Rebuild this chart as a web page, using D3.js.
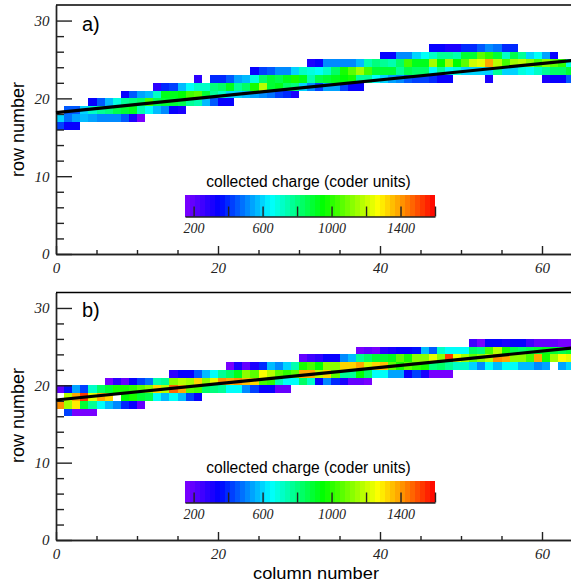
<!DOCTYPE html>
<html>
<head>
<meta charset="utf-8">
<script src="https://cdnjs.cloudflare.com/ajax/libs/d3/7.8.5/d3.min.js"></script>
<style>
  html, body { margin: 0; padding: 0; background: #fff; }
  svg { display: block; }
</style>
</head>
<body>
<svg id="chart" width="571" height="582"></svg>
<script>
// axis ticks
const xMajorTicks = [0, 20, 40, 60];
const xMinorTicks = [5, 10, 15, 25, 30, 35, 45, 50, 55];
const yMajorTicks = [0, 10, 20, 30];
const yMinorTicks = [2, 4, 6, 8, 12, 14, 16, 18, 22, 24, 26, 28];
const barTicks = [200, 400, 600, 800, 1000, 1200, 1400, 1600];
const barLabels = [200, 600, 1000, 1400];

// charge palette: stops of the rainbow and the width of one colour step
const paletteValues = [150, 350, 650, 950, 1270, 1600];
const paletteColors = ['#8000ff', '#0000ff', '#00ffff', '#00ff00', '#ffff00', '#ff0000'];
const paletteStep = 29;

// fitted track, row number at column 0 and column 64
const fitColumns = [0, 64];
const fitRowsA = [18.18, 24.9];
const fitRowsB = [18.1, 24.85];

// panel a: pixel rows, first column of each row, charge per column (null = no hit)
const rowsA = [16, 17, 18, 19, 20, 21, 22, 23, 24, 25, 26];
const startsA = [0, 0, 1, 4, 8, 12, 17, 24, 31, 40, 46];
const chargesA = [
  [425, 325, 325],
  [595, 482, 538, 576, 538, 519, 519, 500, 463, 300, 175],
  [463, 463, 595, 724, 762, 800, 856, 875, 931, 743, 650, 557, 519, 350, 300],
  [350, 444, 557, 686, 780, 800, 818, 1030, 850, 900, 900, 850, 762, 743, 557, 463, 350, 325],
  [350, 463, 538, 576, 705, 931, 931, 950, 1030, 1050, 875, 762, 724, 613, 613, 576, 538, 519, 482, 425, 388, 300],
  [275, 406, 425, 557, 650, 724, 705, 800, 818, 931, 762, 837, 990, 1170, 894, 912, 837, 800, 613, 500, 425, 538, 538, 425, 350, 350],
  [280, null, 388, 406, 444, 538, 557, 690, 837, 875, 856, 912, 990, 912, 743, 856, 875, 912, 950, 970, 770, 770, 650, 613, 538, 500, 444, 425, 425, 406, 330, 325,
    null, null, null, null, 300, null, null, null, null, null, null, 300, 325, 350, 463, 406],
  [330, 425, 444, 500, 519, 613, 724, 686, 650, 705, 837, 990, 1070, 1150, 1030, 875, 875, 875, 762, 856, 818, 818, 650, 780, 650, 686, 613, 595, 595, 613, 762, 595, 613, 686, 650, 705, 762, 818, 837, 875],
  [300, 350, 500, 500, 500, 519, 576, 743, 800, 762, 743, 837, 1030, 931, 931, 1150, 950, 1150, 950, 1070, 1210, 1230, 1370, 1170, 1030, 1150, 1190, 1110, 1030, 1110, 1050, 1010, 686],
  [330, 330, 500, 500, 595, 650, 724, 762, 762, 743, 894, 894, 1070, 1010, 875, 724, 856, 762, 613, 650, 538, 350],
  [350, 350, 300, 300, 388, 406, 463, 519, 482, 406, 406]
];

// panel b
const rowsB = [16, 17, 18, 19, 20, 21, 22, 23, 24, 25];
const startsB = [1, 0, 1, 0, 6, 14, 21, 30, 37, 51];
const chargesB = [
  [425, 175, 175, 175],
  [1410, 1150, 1290, 875, 762, 650, 576, 519, 388, 325, 200],
  [1190, 1390, 1520, 1230, 1390, 1310, null, 950, 970, 894, 856, 650, 576, 650, 557, 425, 325],
  [200, 369, 538, 425, 724, 837, 875, 970, 990, 1010, 1070, 1110, 1330, 1190, 1455, 1390, 1070, 1030, 818, 800, 762, 650, 650, 519, 425, 325, 325, 190, 190],
  [175, 270, 200, 325, 425, 482, 743, 762, 1110, 1190, 1150, 1330, 1110, 1230, 1410, 1390, 1410, 1350, 1330, 1030, 1010, 743, 650, 650, 837, 705, 350, 519, 406, 300, 200, 200, 175],
  [275, 350, 350, 463, 557, 650, 780, 837, 931, 1130, 1070, 1270, 1170, 1070, 1010, 1070, 1370, 1390, 1190, 1330, 1070, 762, 780, 950, 818, 650, 650, 538, 538, 350, 425, 300, 175, 175, 175],
  [175, 300, 200, 300, 406, 557, 519, 595, 743, 970, 1030, 950, 1130, 1130, 1310, 1310, 1390, 1210, 1330, 1350, 1070, 990, 1070, 1010, 970, 800, 837, 762, 724, 705, 613, 519, 650, 576, 650, 650, 576, 557, 519, 538, null, 538, 613],
  [200, 250, 275, 350, 350, 519, 576, 780, 837, 875, 875, 931, 1070, 970, 1110, 1110, 1230, 1110, 1520, 1230, 1150, 1070, 1110, 1170, 1410, 1390, 1110, 1110, 1030, 1390, 990, 1150, 1270, 1230],
  [175, 200, 175, 275, 300, 325, 350, 369, 576, 463, 705, 650, 650, 650, 837, 800, 1030, 1190, 990, 856, 818, 856, 875, 931, 875, 856, 875],
  [250, 175, 325, 350, 300, 325, 350, 250, 200, 200, 200, 175, 175]
];

const svg = d3.select('#chart');
const serif = '"Liberation Serif", serif';
const sans = '"Liberation Sans", Arial, sans-serif';
const ink = '#222';

const x = d3.scaleLinear().domain([0, 64]).range([56, 574.4]);
const barScale = d3.scaleLinear().domain([150, 1600]).range([185, 435]);
const palette = d3.scaleLinear().domain(paletteValues).range(paletteColors);
// the palette is stepped, every charge takes the colour of its step
const stepColor = v => palette(150 + Math.floor((v - 150) / paletteStep) * paletteStep + paletteStep / 2);

const styleAxis = (g, fontSize) => {
  g.selectAll('path, line').attr('stroke', ink).attr('stroke-width', 1.4);
  g.selectAll('text')
    .attr('fill', ink)
    .style('font-family', serif)
    .style('font-style', 'italic')
    .style('font-size', fontSize + 'px');
};

const drawPanel = (panel) => {
  const { bottom, plotHeight, label, rows, starts, charges, fit } = panel;
  const y = d3.scaleLinear().domain([0, 32]).range([bottom, bottom - plotHeight]);
  const g = svg.append('g');

  // pixels
  const cells = [];
  rows.forEach((row, i) => {
    charges[i].forEach((charge, k) => {
      if (charge !== null) cells.push({ row, col: starts[i] + k, charge });
    });
  });
  g.append('g').selectAll('rect')
    .data(cells)
    .enter()
    .append('rect')
    .attr('x', d => x(d.col))
    .attr('y', d => y(d.row + 1))
    .attr('width', x(1) - x(0))
    .attr('height', y(0) - y(1))
    .attr('fill', d => stepColor(d.charge))
    .attr('shape-rendering', 'crispEdges');

  // axes, ticks point into the plot
  const xAxis = g.append('g').attr('transform', `translate(0,${bottom})`);
  xAxis.call(d3.axisBottom(x).tickValues(xMajorTicks).tickSize(-8).tickSizeOuter(0).tickPadding(8));
  xAxis.append('g').call(d3.axisBottom(x).tickValues(xMinorTicks).tickSize(-4).tickSizeOuter(0).tickFormat(''));
  styleAxis(xAxis, 15);

  const yAxis = g.append('g').attr('transform', `translate(${x(0)},0)`);
  yAxis.call(d3.axisLeft(y).tickValues(yMajorTicks).tickSize(-16).tickSizeOuter(0).tickPadding(6.5));
  yAxis.append('g').call(d3.axisLeft(y).tickValues(yMinorTicks).tickSize(-8).tickSizeOuter(0).tickFormat(''));
  styleAxis(yAxis, 15);

  // top of the frame
  g.append('line')
    .attr('x1', x(0)).attr('x2', x(64))
    .attr('y1', y(32)).attr('y2', y(32))
    .attr('stroke', '#000').attr('stroke-width', 1.6);

  // fitted track
  const fitLine = d3.line().x(d => x(d[0])).y(d => y(d[1]));
  g.append('path')
    .attr('d', fitLine(d3.zip(fitColumns, fit)))
    .attr('fill', 'none')
    .attr('stroke', '#000')
    .attr('stroke-width', 3.2);

  g.append('text')
    .attr('x', 82).attr('y', bottom - 223)
    .attr('font-family', sans).attr('font-size', 20)
    .text(label);

  g.append('text')
    .attr('transform', `translate(24.3,${bottom - 124.5}) rotate(-90)`)
    .attr('text-anchor', 'middle')
    .attr('font-family', sans).attr('font-size', 17.5)
    .attr('textLength', 95)
    .attr('lengthAdjust', 'spacingAndGlyphs')
    .text('row number');

  // colour bar
  const barTop = bottom - 59;
  const barHeight = 21.5;
  const bar = g.append('g');
  bar.selectAll('rect')
    .data(d3.range(150, 1600, paletteStep))
    .enter()
    .append('rect')
    .attr('x', d => barScale(d))
    .attr('y', barTop)
    .attr('width', barScale(paletteStep) - barScale(0))
    .attr('height', barHeight)
    .attr('fill', d => stepColor(d))
    .attr('shape-rendering', 'crispEdges');

  const barAxis = g.append('g').attr('transform', `translate(0,${barTop + barHeight})`);
  barAxis.call(d3.axisBottom(barScale)
    .tickValues(barTicks)
    .tickSize(-10)
    .tickSizeOuter(0)
    .tickPadding(6.5)
    .tickFormat(d => barLabels.includes(d) ? d : ''));
  styleAxis(barAxis, 14);

  g.append('text')
    .attr('x', 308.5).attr('y', barTop - 7.7)
    .attr('text-anchor', 'middle')
    .attr('font-family', sans).attr('font-size', 15.6)
    .text('collected charge (coder units)');
};

drawPanel({ bottom: 254, plotHeight: 249, label: 'a)', rows: rowsA, starts: startsA, charges: chargesA, fit: fitRowsA });
drawPanel({ bottom: 540, plotHeight: 247.5, label: 'b)', rows: rowsB, starts: startsB, charges: chargesB, fit: fitRowsB });

svg.append('text')
  .attr('x', 316).attr('y', 579.3)
  .attr('text-anchor', 'middle')
  .attr('font-family', sans).attr('font-size', 17)
  .attr('textLength', 126)
  .attr('lengthAdjust', 'spacingAndGlyphs')
  .text('column number');
</script>
</body>
</html>
